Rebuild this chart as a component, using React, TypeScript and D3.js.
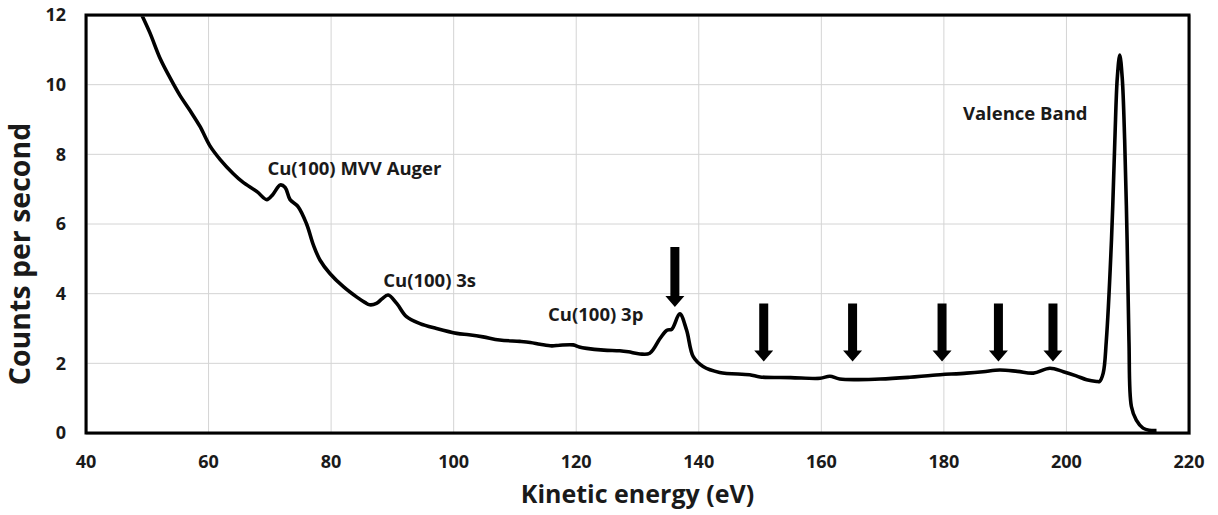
import React from "react";
import * as d3 from "d3";

const energy = [
  49.1, 50.4, 52.1, 53.7, 55.3, 57.0, 58.6, 60.2, 61.9, 64.0, 65.6, 67.9, 69.5, 70.5, 71.7, 72.5, 73.3, 74.6, 76.0, 77.1,
  78.2, 79.8, 82.0, 84.2, 85.5, 86.3, 87.4, 88.3, 89.3, 90.7, 92.3, 94.5, 97.2, 100.5, 102.5, 104.8, 107.5, 110.8, 112.5,
  114.1, 116.0, 117.3, 119.5, 120.5, 121.7, 124.5, 127.1, 128.5, 130.4, 132.0, 133.7, 134.8, 135.6, 136.9, 138.0, 139.1,
  140.7, 143.4, 148.3, 150.0, 155.0, 159.8, 161.4, 163.0, 169.6, 174.4, 178.2, 183.7, 186.4, 189.1, 192.0, 194.6, 197.3,
  199.5, 201.6, 203.3, 204.9, 205.4, 206.0, 206.5, 207.35, 207.9, 208.3, 208.7, 209.1, 209.5, 209.9, 210.2, 210.6, 211.4,
  212.5, 213.5, 214.7,
];
const counts = [
  12.0, 11.5, 10.75, 10.2, 9.7, 9.25, 8.8, 8.25, 7.85, 7.45, 7.2, 6.93, 6.7, 6.85, 7.12, 7.05, 6.7, 6.5, 6.0, 5.4,
  4.96, 4.58, 4.2, 3.9, 3.75, 3.68, 3.72, 3.85, 3.96, 3.72, 3.34, 3.14, 3.0, 2.86, 2.82, 2.76, 2.67, 2.63, 2.6,
  2.55, 2.5, 2.52, 2.53, 2.47, 2.43, 2.38, 2.36, 2.33, 2.27, 2.29, 2.72, 2.95, 2.98, 3.42, 2.96, 2.19,
  1.91, 1.74, 1.67, 1.61, 1.59, 1.57, 1.63, 1.55, 1.55, 1.6, 1.66, 1.72, 1.76, 1.81, 1.77, 1.72, 1.86,
  1.76, 1.64, 1.53, 1.48, 1.48, 1.72, 2.63, 5.54, 8.41, 10.2, 10.85, 10.2, 8.41, 5.54, 2.67, 0.76, 0.37,
  0.14, 0.08, 0.07,
];

const xTicks = [40, 60, 80, 100, 120, 140, 160, 180, 200, 220];
const yTicks = [0, 2, 4, 6, 8, 10, 12];

const labelTexts = ["Cu(100) MVV Auger", "Cu(100) 3s", "Cu(100) 3p", "Valence Band"];
const labelX = [69.6, 88.5, 115.4, 183.1];
const labelY = [7.4, 4.2, 3.22, 8.99];

const arrowX = [136.1, 150.6, 165.1, 179.7, 188.9, 197.8];
const arrowTop = [5.34, 3.72, 3.72, 3.72, 3.72, 3.72];
const arrowTip = [3.62, 2.05, 2.05, 2.05, 2.05, 2.05];

const W = 1218;
const H = 515;
const left = 86;
const right = 1189;
const top = 15;
const bottom = 433;
const FONT = "'Open Sans', sans-serif";
const TXT = "#1a1a1a";

export default function App() {
  const x = d3.scaleLinear().domain([40, 220]).range([left, right]);
  const y = d3.scaleLinear().domain([0, 12]).range([bottom, top]);
  const pts = energy.map((e, i) => [e, counts[i]] as [number, number]);
  const line = d3
    .line<[number, number]>()
    .x((d) => x(d[0]))
    .y((d) => y(d[1]))
    .curve(d3.curveCatmullRom.alpha(0.5));

  return (
    <svg width={W} height={H} style={{ position: "absolute", left: 0, top: 0, background: "#fff" }}>
      <rect x={0} y={0} width={W} height={H} fill="#fff" />
      <defs>
        <clipPath id="plot">
          <rect x={left} y={top} width={right - left} height={bottom - top} />
        </clipPath>
      </defs>
      {xTicks.slice(1, -1).map((t) => (
        <line key={"gx" + t} x1={x(t)} x2={x(t)} y1={top} y2={bottom} stroke="#d4d4d4" strokeWidth={1} />
      ))}
      {yTicks.slice(1, -1).map((t) => (
        <line key={"gy" + t} x1={left} x2={right} y1={y(t)} y2={y(t)} stroke="#d4d4d4" strokeWidth={1} />
      ))}
      <path d={line(pts) || ""} fill="none" stroke="#000" strokeWidth={3.6} strokeLinejoin="round" clipPath="url(#plot)" />
      <rect x={left + 1} y={top + 1} width={right - left} height={bottom - top} fill="none" stroke="#888" strokeWidth={2} opacity={0.5} />
      <rect x={left} y={top} width={right - left} height={bottom - top} fill="none" stroke="#000" strokeWidth={3} />
      {arrowX.map((a, i) => {
        const cx = x(a);
        const yt = y(arrowTop[i]);
        const yp = y(arrowTip[i]);
        const headH = 11;
        const sw = 4.5;
        const hw = 9.5;
        const d = `M${cx - sw},${yt} L${cx + sw},${yt} L${cx + sw},${yp - headH} L${cx + hw},${yp - headH} L${cx},${yp} L${cx - hw},${yp - headH} L${cx - sw},${yp - headH} Z`;
        return <path key={"ar" + i} d={d} fill="#000" />;
      })}
      {yTicks.map((t) => (
        <text key={"yt" + t} x={66} y={y(t)} dy="0.35em" textAnchor="end" fontFamily={FONT} fontWeight="bold" fontSize={18} fill={TXT}>
          {t}
        </text>
      ))}
      {xTicks.map((t) => (
        <text key={"xt" + t} x={x(t)} y={468} textAnchor="middle" fontFamily={FONT} fontWeight="bold" fontSize={18} fill={TXT}>
          {t}
        </text>
      ))}
      {labelTexts.map((s, i) => (
        <text key={"lb" + i} x={x(labelX[i])} y={y(labelY[i])} fontFamily={FONT} fontWeight="bold" fontSize={18.5} fill={TXT}>
          {s}
        </text>
      ))}
      <text x={637.5} y={503} textAnchor="middle" fontFamily={FONT} fontWeight="bold" fontSize={25} fill={TXT}>
        Kinetic energy (eV)
      </text>
      <text transform={`translate(30,254) rotate(-90)`} textAnchor="middle" fontFamily={FONT} fontWeight="bold" fontSize={28.5} fill={TXT}>
        Counts per second
      </text>
    </svg>
  );
}
